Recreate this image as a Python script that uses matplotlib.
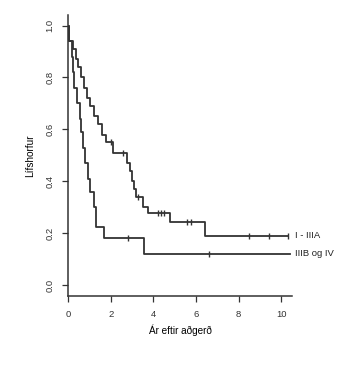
import matplotlib
matplotlib.use("Agg")
import matplotlib.pyplot as plt

plt.rcParams['font.family'] = ['Liberation Sans', 'DejaVu Sans']

# Kaplan-Meier steps
# I - IIIA
time_a = [0, 0.05, 0.25, 0.35, 0.45, 0.6, 0.75, 0.9, 1.05, 1.2, 1.4, 1.6, 1.8,
          2.1, 2.75, 2.9, 3.0, 3.1, 3.2, 3.5, 3.75, 4.8, 6.4, 10.3]
surv_a = [1.0, 0.94, 0.91, 0.87, 0.84, 0.80, 0.76, 0.72, 0.69, 0.65, 0.62, 0.58, 0.55,
          0.51, 0.47, 0.44, 0.40, 0.37, 0.34, 0.30, 0.277, 0.243, 0.19, 0.19]
cens_a_t = [2.0, 2.6, 3.3, 4.2, 4.35, 4.5, 5.6, 5.75, 8.5, 9.4, 10.3]
cens_a_s = [0.55, 0.51, 0.34, 0.277, 0.277, 0.277, 0.243, 0.243, 0.19, 0.19, 0.19]

# IIIB og IV
time_b = [0, 0.05, 0.2, 0.25, 0.3, 0.4, 0.55, 0.6, 0.7, 0.8, 0.95, 1.05, 1.2, 1.3,
          1.7, 3.55, 10.4]
surv_b = [1.0, 0.94, 0.88, 0.82, 0.76, 0.70, 0.64, 0.59, 0.53, 0.47, 0.41, 0.36, 0.30,
          0.225, 0.18, 0.12, 0.12]
cens_b_t = [2.8, 6.6]
cens_b_s = [0.18, 0.12]

group_labels = ['I - IIIA', 'IIIB og IV']
label_y = [0.19, 0.12]

col = '#333333'
fig = plt.figure(figsize=(3.6, 3.7), dpi=100)
ax = fig.add_axes([0.189, 0.2, 0.622, 0.759])

ax.step(time_a, surv_a, where='post', color=col, lw=1.3)
ax.step(time_b, surv_b, where='post', color=col, lw=1.3)
ax.plot(cens_a_t, cens_a_s, ls='none', marker='|', ms=5, mew=1.0, color=col)
ax.plot(cens_b_t, cens_b_s, ls='none', marker='|', ms=5, mew=1.0, color=col)

for lab, yv in zip(group_labels, label_y):
    ax.text(10.65, yv, lab, fontsize=6.8, va='center', ha='left', color='#222222',
            clip_on=False)

ax.set_xlim(0, 10.5)
ax.set_ylim(-0.042, 1.04)
ax.set_xticks(range(0, 11, 2))
ax.set_yticks([0.0, 0.2, 0.4, 0.6, 0.8, 1.0])
ax.set_yticklabels(['0.0', '0.2', '0.4', '0.6', '0.8', '1.0'], rotation=90, va='center')
ax.tick_params(labelsize=6.8, length=4, width=0.9, colors='#333333', pad=6)
ax.spines['top'].set_visible(False)
ax.spines['right'].set_visible(False)
ax.spines['left'].set_color(col)
ax.spines['bottom'].set_color(col)
ax.spines['left'].set_linewidth(1.1)
ax.spines['bottom'].set_linewidth(1.1)

ax.set_xlabel('Ár eftir aðgerð', fontsize=7.2, labelpad=4)
ax.set_ylabel('Lífshorfur', fontsize=7.2, labelpad=7)

fig.savefig('out.png', dpi=100)
